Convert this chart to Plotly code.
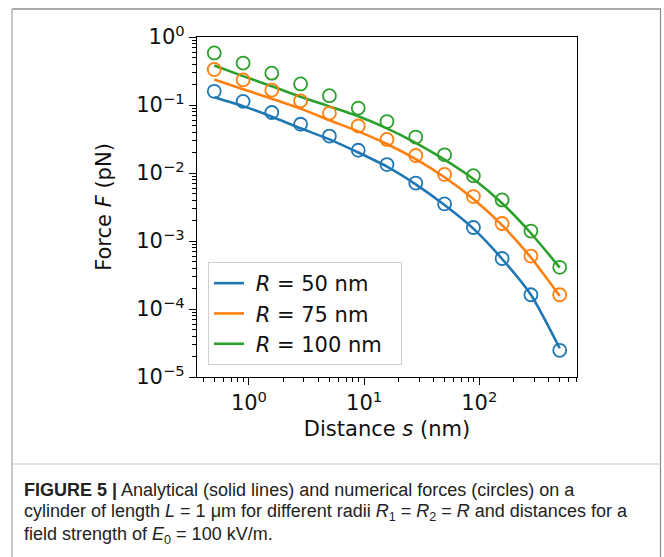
import plotly.graph_objects as go

# ---------------- data ----------------
distance_nm = [0.5, 0.89, 1.58, 2.81, 5.0, 8.9, 15.8, 28.1, 50, 89, 158, 281, 500]

series_labels = ["<i>R</i> = 50 nm", "<i>R</i> = 75 nm", "<i>R</i> = 100 nm"]
series_colors = ["#1f77b4", "#ff7f0e", "#2ca02c"]

# analytical (solid lines), pN
analytic_50 = [0.130, 0.0963, 0.0673, 0.0454, 0.0312, 0.0200, 0.0124, 0.00682,
               0.00339, 0.00152, 5.44e-4, 1.62e-4, 2.65e-5]
analytic_75 = [0.237, 0.171, 0.124, 0.0885, 0.0597, 0.0410, 0.0267, 0.0160,
               0.00867, 0.00416, 0.00171, 5.73e-4, 1.56e-4]
analytic_100 = [0.382, 0.266, 0.189, 0.132, 0.0953, 0.0684, 0.0454, 0.0278,
                0.0157, 0.00815, 0.00359, 0.00130, 4.07e-4]

# numerical (circles), pN
numeric_50 = [0.159, 0.113, 0.0776, 0.0521, 0.0349, 0.0216, 0.0133, 0.00711,
              0.00351, 0.00158, 5.53e-4, 1.62e-4, 2.47e-5]
numeric_75 = [0.333, 0.234, 0.166, 0.115, 0.0759, 0.0491, 0.0312, 0.0181,
              0.00953, 0.00450, 0.00181, 6.0e-4, 1.62e-4]
numeric_100 = [0.583, 0.414, 0.294, 0.204, 0.137, 0.090, 0.0571, 0.0338,
               0.0185, 0.00912, 0.00402, 0.00140, 4.1e-4]

x_tick_vals = [1, 10, 100]
x_tick_text = ["10<sup>0</sup>", "10<sup>1</sup>", "10<sup>2</sup>"]
y_tick_vals = [1e-5, 1e-4, 1e-3, 1e-2, 1e-1, 1]
y_tick_text = ["10<sup>−5</sup>", "10<sup>−4</sup>", "10<sup>−3</sup>",
               "10<sup>−2</sup>", "10<sup>−1</sup>", "10<sup>0</sup>"]

caption_lines = [
    "<b>FIGURE 5 |</b> Analytical (solid lines) and numerical forces (circles) on a",
    "cylinder of length <i>L</i> = 1 μm for different radii <i>R</i><sub>1</sub> = "
    "<i>R</i><sub>2</sub> = <i>R</i> and distances for a",
    "field strength of <i>E</i><sub>0</sub> = 100 kV/m.",
]

# ---------------- layout geometry ----------------
W, H = 664, 557
L, R, T, B = 197, 87, 37, 180
PW, PH = W - L - R, H - T - B


def px(x):
    return (x - L) / PW


def py(y):
    return (H - B - y) / PH


fig = go.Figure()

analytic = [analytic_50, analytic_75, analytic_100]
numeric = [numeric_50, numeric_75, numeric_100]

for lab, col, ya in zip(series_labels, series_colors, analytic):
    fig.add_trace(go.Scatter(
        x=distance_nm, y=ya, mode="lines", name=" " + lab + "\u00a0\u00a0",
        line=dict(color=col, width=2.6, shape="spline", smoothing=0.6),
    ))

for col, yn in zip(series_colors, numeric):
    fig.add_trace(go.Scatter(
        x=distance_nm, y=yn, mode="markers", showlegend=False,
        marker=dict(symbol="circle-open", size=13, color=col,
                    line=dict(width=1.8, color=col)),
    ))

x_minor = [m * 10 ** k for k in range(-1, 3) for m in range(2, 10)]
y_minor = [m * 10.0 ** k for k in range(-5, 0) for m in range(2, 10)]

axis_common = dict(
    showline=True, linecolor="black", linewidth=1.3, mirror=True,
    ticks="outside", ticklen=7, tickwidth=1.2, tickcolor="black",
    showgrid=False, zeroline=False,
    tickfont=dict(family="DejaVu Sans", size=21, color="#111111"),
)

fig.update_xaxes(
    type="log", range=[-0.451, 2.849],
    tickmode="array", tickvals=x_tick_vals, ticktext=x_tick_text,
    minor=dict(tickmode="array", tickvals=x_minor, ticks="outside",
               ticklen=4, tickwidth=1, tickcolor="black", showgrid=False),
    title=dict(text="Distance <i>s</i> (nm)", standoff=6,
               font=dict(family="DejaVu Sans", size=21, color="#111111")),
    **axis_common,
)
fig.update_yaxes(
    type="log", range=[-5, 0],
    tickmode="array", tickvals=y_tick_vals, ticktext=y_tick_text,
    minor=dict(tickmode="array", tickvals=y_minor, ticks="outside",
               ticklen=4, tickwidth=1, tickcolor="black", showgrid=False),
    title=dict(text="Force <i>F</i> (pN)", standoff=18,
               font=dict(family="DejaVu Sans", size=21, color="#111111")),
    **axis_common,
)

shapes = [
    # outer frame of the figure panel
    dict(type="line", xref="paper", yref="paper", x0=px(12), x1=px(661),
         y0=py(9), y1=py(9), line=dict(color="#8c8c8c", width=1.5)),
    dict(type="line", xref="paper", yref="paper", x0=px(12), x1=px(12),
         y0=py(9), y1=py(557), line=dict(color="#b4b4b4", width=1.5)),
    dict(type="line", xref="paper", yref="paper", x0=px(660.5), x1=px(660.5),
         y0=py(9), y1=py(557), line=dict(color="#8c8c8c", width=1.2)),
    # separator between chart and caption
    dict(type="line", xref="paper", yref="paper", x0=px(12), x1=px(661),
         y0=py(464), y1=py(464), line=dict(color="#c8c8c8", width=1)),
]

annotations = []
for i, txt in enumerate(caption_lines):
    annotations.append(dict(
        text=txt, xref="paper", yref="paper", x=px(22), y=py(490 + 22.5 * i),
        xanchor="left", yanchor="middle", showarrow=False, align="left",
        font=dict(family="Liberation Sans", size=18, color="#222222"),
    ))

fig.update_layout(
    width=W, height=H,
    margin=dict(l=L, r=R, t=T, b=B, pad=0),
    paper_bgcolor="white", plot_bgcolor="white",
    shapes=shapes, annotations=annotations,
    legend=dict(
        x=px(208), y=py(262), xanchor="left", yanchor="top",
        bgcolor="rgba(255,255,255,0.85)", bordercolor="#d0d0d0", borderwidth=1,
        font=dict(family="DejaVu Sans", size=21, color="#111111"),
        tracegroupgap=0,
    ),
    showlegend=True,
)

fig.write_html("out.html")
